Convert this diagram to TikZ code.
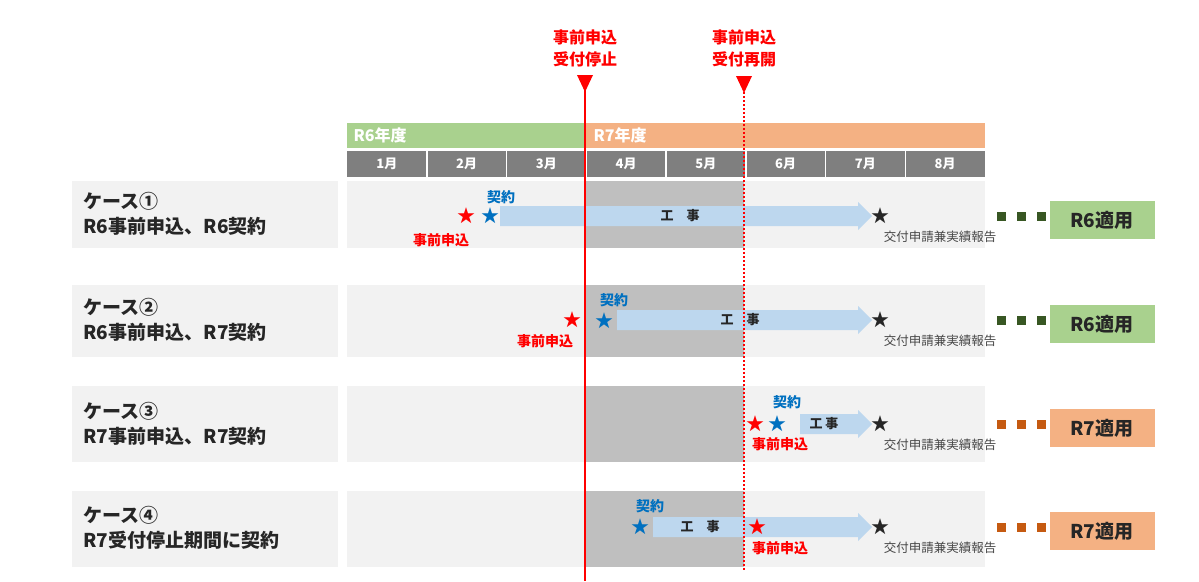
\documentclass[tikz,border=0pt]{standalone}
\usepackage{fontspec}
\setmainfont{Noto Sans CJK JP}
\usetikzlibrary{shapes.arrows,shapes.geometric}
\definecolor{gA}{HTML}{A9D18E}\definecolor{oA}{HTML}{F4B183}
\definecolor{hd}{HTML}{7F7F7F}\definecolor{rowc}{HTML}{F2F2F2}
\definecolor{shd}{HTML}{BFBFBF}\definecolor{arr}{HTML}{BDD7EE}
\definecolor{rr}{HTML}{FF0000}\definecolor{bb}{HTML}{0070C0}
\definecolor{gd}{HTML}{385723}\definecolor{od}{HTML}{C55A11}
\definecolor{tx}{HTML}{262626}
\tikzset{
 lab/.style={font=\bfseries\fontsize{19}{25}\selectfont,text=tx,align=left,anchor=west},
 rstar/.style={text=rr,font=\fontsize{18}{18}\selectfont},
 bstar/.style={text=bb,font=\fontsize{18}{18}\selectfont},
 kstar/.style={text=tx,font=\fontsize{18}{18}\selectfont},
 rtxt/.style={text=rr,font=\bfseries\fontsize{14}{16}\selectfont},
 btxt/.style={text=bb,font=\bfseries\fontsize{14}{16}\selectfont},
 ktxt/.style={text=tx!85,font=\fontsize{12.5}{14}\selectfont},
 wtxt/.style={font=\bfseries\fontsize{13}{15}\selectfont,text=tx},
 appl/.style={font=\bfseries\fontsize{19}{22}\selectfont,text=tx,minimum width=105pt,minimum height=38pt,inner sep=0pt},
 sq/.style={minimum size=9pt,inner sep=0pt},
 hdtxt/.style={font=\bfseries\fontsize{13}{15}\selectfont,text=white},
 yrtxt/.style={font=\bfseries\fontsize{16}{18}\selectfont,text=white},
 ttl/.style={font=\bfseries\fontsize{16}{22}\selectfont,text=rr,align=center},
}
\begin{document}
\begin{tikzpicture}[x=1pt,y=-1pt]
\useasboundingbox (0,0) rectangle (1199,581);
% year bar
\fill[gA] (347,123) rectangle (585,148);
\fill[oA] (585,123) rectangle (985,148);
\node[yrtxt,anchor=west] (r6) at (350,135.5) {R6年度};
\node[yrtxt,anchor=west] (r7) at (590,135.5) {R7年度};
% months
\fill[hd] (347,151) rectangle (985,177);
\foreach \i/\xa in {1/347,2/426.75,3/506.5,4/586.25,5/666,6/745.75,7/825.5,8/905.25}{
 \node[hdtxt] (m\i) at (\xa+39.9,164) {\i 月};
 \ifnum\i>1 \draw[white,line width=1.5pt] (\xa,151)--(\xa,177);\fi
}
% rows
\foreach \n/\ya/\yb in {1/181/248,2/285/357,3/386/462,4/491/567}{
 \fill[rowc] (72,\ya) rectangle (338,\yb);
 \fill[rowc] (347,\ya) rectangle (985,\yb);
 \fill[shd] (585,\ya) rectangle (744,\yb);
}
\node[lab] (c1) at (80,214) {ケース①\\R6事前申込、R6契約};
\node[lab] (c2) at (80,320) {ケース②\\R6事前申込、R7契約};
\node[lab] (c3) at (80,424) {ケース③\\R7事前申込、R7契約};
\node[lab] (c4) at (80,528) {ケース④\\R7受付停止期間に契約};
% work arrows
\fill[arr] (500,206)--(858,206)--(858,202)--(872,216)--(858,230)--(858,226)--(500,226)--cycle;
\fill[arr] (617,310)--(858,310)--(858,306)--(872,320)--(858,334)--(858,330)--(617,330)--cycle;
\fill[arr] (800,414)--(858,414)--(858,410)--(872,424)--(858,438)--(858,434)--(800,434)--cycle;
\fill[arr] (653,517)--(858,517)--(858,513)--(872,527)--(858,541)--(858,537)--(653,537)--cycle;
\node[wtxt] (w1) at (680,216) {工\quad 事};
\node[wtxt] (w2) at (740,320) {工\quad 事};
\node[wtxt] (w3) at (824,424) {工 事};
\node[wtxt] (w4) at (700,527) {工\quad 事};
% vertical lines
\draw[rr,line width=2pt] (585,85)--(585,581);
\draw[rr,line width=1.6pt,dash pattern=on 2pt off 2pt] (744,88)--(744,570);
\fill[rr] (577,75)--(593,75)--(585,92)--cycle;
\fill[rr] (736,76)--(752,76)--(744,93)--cycle;
\node[ttl] (t1) at (585,48) {事前申込\\受付停止};
\node[ttl] (t2) at (744,48) {事前申込\\受付再開};
% row1
\node[rstar] (s1r) at (466,216) {★};
\node[bstar] (s1b) at (490,216) {★};
\node[btxt] (k1) at (501,197) {契約};
\node[rtxt] (j1) at (441,240) {事前申込};
% row2
\node[rstar] (s2r) at (572,320) {★};
\node[bstar] (s2b) at (604,321) {★};
\node[btxt] (k2) at (614,300) {契約};
\node[rtxt] (j2) at (545,341) {事前申込};
% row3
\node[rstar] (s3r) at (755,424) {★};
\node[bstar] (s3b) at (777,424) {★};
\node[btxt] (k3) at (787,402) {契約};
\node[rtxt] (j3) at (780,444) {事前申込};
% row4
\node[bstar] (s4b) at (640,527) {★};
\node[btxt] (k4) at (650,506) {契約};
\node[rstar] (s4r) at (757,527) {★};
\node[rtxt] (j4) at (780,548) {事前申込};
% report + application
\foreach \n/\y/\c/\f/\t in {1/216/gd/gA/R6,2/320/gd/gA/R6,3/424/od/oA/R7,4/527/od/oA/R7}{
 \node[kstar] (ks\n) at (880,\y) {★};
 \node[ktxt] (kr\n) at (940,\y+21) {交付申請兼実績報告};
 \foreach \xx in {1001,1021,1041}{\node[sq,fill=\c] at (\xx,\y) {};}
 \node[appl,fill=\f] (ap\n) at (1102,\y+4) {\t 適用};
}
\end{tikzpicture}
\end{document}
